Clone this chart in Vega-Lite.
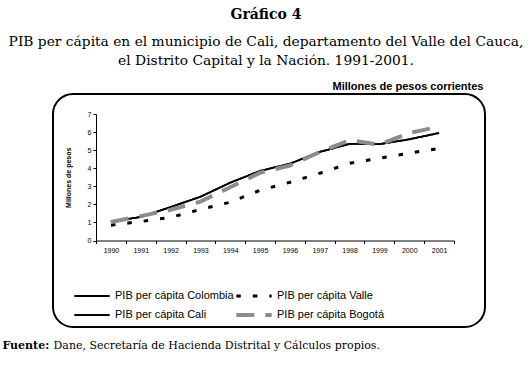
{
  "$schema": "https://vega.github.io/schema/vega-lite/v6.json",
  "autosize": {"type": "none"},
  "width": 432,
  "height": 233,
  "padding": {"left": 53, "top": 94, "right": 45, "bottom": 39},
  "background": "white",
  "title": {
    "text": "Gráfico 4",
    "subtitle": ["PIB per cápita en el municipio de Cali, departamento del Valle del Cauca,", "el Distrito Capital y la Nación. 1991-2001."],
    "font": "DejaVu Serif",
    "fontSize": 14,
    "fontWeight": "bold",
    "color": "black",
    "subtitleFont": "DejaVu Serif",
    "subtitleFontSize": 13.8,
    "subtitleColor": "black",
    "subtitleLineHeight": 19,
    "subtitlePadding": 13,
    "anchor": "middle",
    "frame": "group",
    "offset": 12,
    "dx": -3
  },
  "data": {
    "values": [
      {"year": 1990, "serie": "PIB per cápita Colombia", "value": 1.05},
      {"year": 1991, "serie": "PIB per cápita Colombia", "value": 1.3},
      {"year": 1992, "serie": "PIB per cápita Colombia", "value": 1.85},
      {"year": 1993, "serie": "PIB per cápita Colombia", "value": 2.42},
      {"year": 1994, "serie": "PIB per cápita Colombia", "value": 3.2},
      {"year": 1995, "serie": "PIB per cápita Colombia", "value": 3.85},
      {"year": 1996, "serie": "PIB per cápita Colombia", "value": 4.25},
      {"year": 1997, "serie": "PIB per cápita Colombia", "value": 4.9},
      {"year": 1998, "serie": "PIB per cápita Colombia", "value": 5.35},
      {"year": 1999, "serie": "PIB per cápita Colombia", "value": 5.33},
      {"year": 2000, "serie": "PIB per cápita Colombia", "value": 5.6},
      {"year": 2001, "serie": "PIB per cápita Colombia", "value": 5.95},
      {"year": 1990, "serie": "PIB per cápita Cali", "value": 1.05},
      {"year": 1991, "serie": "PIB per cápita Cali", "value": 1.3},
      {"year": 1992, "serie": "PIB per cápita Cali", "value": 1.85},
      {"year": 1993, "serie": "PIB per cápita Cali", "value": 2.42},
      {"year": 1994, "serie": "PIB per cápita Cali", "value": 3.2},
      {"year": 1995, "serie": "PIB per cápita Cali", "value": 3.85},
      {"year": 1996, "serie": "PIB per cápita Cali", "value": 4.25},
      {"year": 1997, "serie": "PIB per cápita Cali", "value": 4.9},
      {"year": 1998, "serie": "PIB per cápita Cali", "value": 5.35},
      {"year": 1999, "serie": "PIB per cápita Cali", "value": 5.33},
      {"year": 2000, "serie": "PIB per cápita Cali", "value": 5.6},
      {"year": 2001, "serie": "PIB per cápita Cali", "value": 5.95},
      {"year": 1990, "serie": "PIB per cápita Valle", "value": 0.85},
      {"year": 1991, "serie": "PIB per cápita Valle", "value": 1.05},
      {"year": 1992, "serie": "PIB per cápita Valle", "value": 1.28},
      {"year": 1993, "serie": "PIB per cápita Valle", "value": 1.72},
      {"year": 1994, "serie": "PIB per cápita Valle", "value": 2.12},
      {"year": 1995, "serie": "PIB per cápita Valle", "value": 2.78},
      {"year": 1996, "serie": "PIB per cápita Valle", "value": 3.22},
      {"year": 1997, "serie": "PIB per cápita Valle", "value": 3.72},
      {"year": 1998, "serie": "PIB per cápita Valle", "value": 4.27},
      {"year": 1999, "serie": "PIB per cápita Valle", "value": 4.55},
      {"year": 2000, "serie": "PIB per cápita Valle", "value": 4.83},
      {"year": 2001, "serie": "PIB per cápita Valle", "value": 5.1},
      {"year": 1990, "serie": "PIB per cápita Bogotá", "value": 1.02},
      {"year": 1991, "serie": "PIB per cápita Bogotá", "value": 1.35},
      {"year": 1992, "serie": "PIB per cápita Bogotá", "value": 1.7},
      {"year": 1993, "serie": "PIB per cápita Bogotá", "value": 2.15},
      {"year": 1994, "serie": "PIB per cápita Bogotá", "value": 2.95},
      {"year": 1995, "serie": "PIB per cápita Bogotá", "value": 3.75},
      {"year": 1996, "serie": "PIB per cápita Bogotá", "value": 4.15},
      {"year": 1997, "serie": "PIB per cápita Bogotá", "value": 4.9},
      {"year": 1998, "serie": "PIB per cápita Bogotá", "value": 5.55},
      {"year": 1999, "serie": "PIB per cápita Bogotá", "value": 5.3},
      {"year": 2000, "serie": "PIB per cápita Bogotá", "value": 5.95},
      {"year": 2001, "serie": "PIB per cápita Bogotá", "value": 6.3}
    ]
  },
  "encoding": {
    "y": {
      "field": "value",
      "type": "quantitative",
      "scale": {"domain": [0, 7], "range": [146.5, 20], "nice": false, "zero": true},
      "axis": {
        "values": [0, 1, 2, 3, 4, 5, 6, 7],
        "offset": -43,
        "title": "Millones de pesos",
        "titleFont": "Liberation Sans",
        "titleFontSize": 7,
        "titleFontWeight": "bold",
        "titleColor": "black",
        "titleX": -28,
        "titleBaseline": "middle",
        "labelFont": "Liberation Sans",
        "labelFontSize": 7,
        "labelColor": "black",
        "labelPadding": 2,
        "tickSize": 3,
        "tickColor": "black",
        "domainColor": "black",
        "grid": false
      }
    },
    "color": {
      "field": "serie",
      "type": "nominal",
      "scale": {
        "domain": ["PIB per cápita Colombia", "PIB per cápita Valle", "PIB per cápita Cali", "PIB per cápita Bogotá"],
        "range": ["black", "black", "black", "#8c8c8c"]
      },
      "legend": {
        "orient": "none",
        "legendX": 19,
        "legendY": 194,
        "direction": "horizontal",
        "columns": 2,
        "title": null,
        "padding": 0,
        "symbolType": "stroke",
        "symbolSize": 1250,
        "labelFont": "Liberation Sans",
        "labelFontSize": 11,
        "labelColor": "black",
        "labelOffset": 3,
        "columnPadding": 0,
        "rowPadding": 3,
        "gridAlign": "all",
        "clipHeight": 16
      }
    },
    "strokeDash": {
      "field": "serie",
      "type": "nominal",
      "scale": {
        "domain": ["PIB per cápita Colombia", "PIB per cápita Valle", "PIB per cápita Cali", "PIB per cápita Bogotá"],
        "range": [[1, 0], [4.5, 12], [1, 0], [18, 11]]
      }
    },
    "strokeWidth": {
      "field": "serie",
      "type": "nominal",
      "scale": {
        "type": "ordinal",
        "domain": ["PIB per cápita Colombia", "PIB per cápita Valle", "PIB per cápita Cali", "PIB per cápita Bogotá"],
        "range": [1.8, 3, 1.8, 4]
      }
    }
  },
  "layer": [
    {
      "transform": [{"filter": "datum.serie === 'PIB per cápita Colombia' || datum.serie === 'PIB per cápita Cali'"}],
      "mark": {"type": "line"},
      "encoding": {
        "x": {
          "field": "year",
          "type": "ordinal",
          "bandPosition": 0.5,
          "scale": {"type": "band", "range": [43, 401], "paddingInner": 0, "paddingOuter": 0},
          "axis": {
            "orient": "bottom",
            "offset": -86.5,
            "labelAngle": 0,
            "labelFont": "Liberation Sans",
            "labelFontSize": 7,
            "labelColor": "black",
            "labelPadding": 3,
            "tickSize": 3,
            "tickColor": "black",
            "tickBand": "extent",
            "domainColor": "black",
            "grid": false,
            "title": "Dane, Secretaría de Hacienda Distrital y Cálculos propios.",
            "titleFont": "DejaVu Serif",
            "titleFontSize": 11,
            "titleFontWeight": "normal",
            "titleColor": "black",
            "titleAlign": "left",
            "titleAnchor": "start",
            "titleBaseline": "alphabetic",
            "titleX": 0,
            "titleY": 107.5
          }
        }
      }
    },
    {
      "transform": [{"filter": "datum.serie === 'PIB per cápita Valle'"}],
      "mark": {"type": "line"},
      "encoding": {
        "x": {
          "field": "year",
          "type": "ordinal",
          "bandPosition": 0.5,
          "scale": {"type": "band", "range": [43, 401], "paddingInner": 0, "paddingOuter": 0},
          "axis": {
            "orient": "top",
            "labels": false,
            "ticks": false,
            "domain": false,
            "grid": false,
            "title": "Millones de pesos corrientes",
            "titleFont": "Liberation Sans",
            "titleFontSize": 11,
            "titleFontWeight": "bold",
            "titleColor": "black",
            "titleAlign": "right",
            "titleAnchor": "end",
            "titleBaseline": "alphabetic",
            "titleX": 430,
            "titleY": -5
          }
        }
      }
    },
    {
      "transform": [{"filter": "datum.serie === 'PIB per cápita Bogotá'"}],
      "mark": {"type": "line"},
      "encoding": {
        "x": {
          "field": "year",
          "type": "ordinal",
          "bandPosition": 0.5,
          "scale": {"type": "band", "range": [43, 401], "paddingInner": 0, "paddingOuter": 0},
          "axis": {
            "orient": "bottom",
            "offset": -86.5,
            "labels": false,
            "ticks": false,
            "domain": false,
            "grid": false,
            "title": "Fuente:",
            "titleFont": "DejaVu Serif",
            "titleFontSize": 11,
            "titleFontWeight": "bold",
            "titleColor": "black",
            "titleAlign": "left",
            "titleAnchor": "start",
            "titleBaseline": "alphabetic",
            "titleX": -51,
            "titleY": 107.5
          }
        }
      }
    }
  ],
  "resolve": {"axis": {"x": "independent"}},
  "config": {
    "view": {"stroke": "black", "strokeWidth": 2, "cornerRadius": 20},
    "axis": {"grid": false}
  }
}
